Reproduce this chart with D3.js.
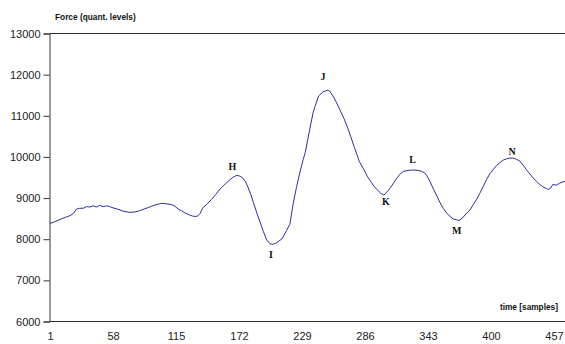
<!DOCTYPE html>
<html>
<head>
<meta charset="utf-8">
<script src="https://cdn.jsdelivr.net/npm/d3@7"></script>
<style>
html,body{margin:0;padding:0;background:#fff;}
svg{display:block;}
</style>
</head>
<body>
<svg id="chart" width="565" height="344"></svg>
<script>
// Sample index (x) and force (quantization levels)
const samples = [1,6,10,15,19,22,25,28,31,34,37,40,43,46,49,52,55,58,62,67,73,78,82,86,90,93,96,99,102,106,111,114,117,120,123,127,130,133,135,137,139,143,147,151,156,160,164,167,170,173,176,178,180,183,185,189,194,197,200,202,204,206,209,211,215,218,221,224,227,230,232,234,236,239,241,244,248,252,254,257,260,263,267,270,273,276,281,285,288,291,294,297,300,303,306,309,312,315,318,321,325,330,334,337,340,342,345,348,351,354,357,360,363,366,369,371,374,378,381,384,387,390,393,396,399,402,405,408,411,414,417,420,423,426,429,432,435,438,441,444,447,450,452,454,456,459,462,465,467];
const force   = [8370,8420,8470,8520,8560,8610,8720,8740,8740,8780,8770,8800,8770,8810,8780,8800,8780,8750,8720,8670,8640,8650,8680,8720,8760,8790,8820,8840,8860,8850,8830,8790,8720,8680,8630,8580,8550,8540,8560,8620,8740,8840,8950,9080,9240,9340,9440,9500,9540,9520,9460,9380,9260,9050,8880,8560,8180,7970,7880,7860,7880,7900,7960,8000,8200,8350,8850,9250,9600,9920,10100,10380,10660,11060,11230,11470,11570,11610,11590,11470,11320,11150,10920,10720,10490,10250,9870,9680,9520,9400,9280,9190,9110,9060,9140,9240,9360,9480,9580,9640,9660,9670,9660,9640,9600,9530,9380,9200,9040,8870,8730,8620,8540,8480,8460,8440,8500,8620,8700,8830,8960,9110,9270,9440,9580,9680,9780,9850,9910,9940,9960,9960,9930,9890,9790,9680,9580,9480,9400,9320,9260,9220,9200,9230,9320,9300,9350,9380,9400];
const yTicks = [6000,7000,8000,9000,10000,11000,12000,13000];
const xTicks = [1,58,115,172,229,286,343,400,457];
const peakLabels = ["H","I","J","K","L","M","N"];
const peakSamples = [166,201,248,305,329,369,419];
const peakForce = [9670,7530,11860,8820,9840,8115,10035];

const svg = d3.select("#chart");
const x = d3.scaleLinear().domain([1,457]).range([50,554]);
const y = d3.scaleLinear().domain([6000,13000]).range([321,33]);
const axisColor = "#333";

// top border of plot area
svg.append("line").attr("x1",49.5).attr("x2",565).attr("y1",y(13000)+0.5).attr("y2",y(13000)+0.5)
  .attr("stroke",axisColor).attr("stroke-width",1);

// y axis
const yAxis = svg.append("g").attr("transform","translate(49.5,0.5)")
  .call(d3.axisLeft(y).tickValues(yTicks).tickSize(6).tickPadding(3).tickFormat(d3.format("d")));
yAxis.select(".domain").attr("stroke",axisColor);
yAxis.selectAll(".tick line").attr("stroke",axisColor);
yAxis.selectAll("text").attr("font-family","Liberation Sans, Arial, sans-serif").attr("font-size","11px").attr("fill","#222");

// x axis
const xAxis = svg.append("g").attr("transform","translate(0,"+(y(6000)+0.5)+")")
  .call(d3.axisBottom(x).tickValues(xTicks).tickSize(0).tickPadding(11).tickFormat(d3.format("d")));
xAxis.select(".domain").attr("d","M49.5,0H565").attr("stroke",axisColor);
xAxis.selectAll("text").attr("font-family","Liberation Sans, Arial, sans-serif").attr("font-size","11px").attr("fill","#222");

// data line
const line = d3.line().x((d,i)=>x(samples[i])).y(d=>y(d)).curve(d3.curveLinear);
svg.append("path").datum(force).attr("d",line).attr("fill","none")
  .attr("stroke","#2e2e9e").attr("stroke-width",1).attr("stroke-linejoin","round");

// peak labels
svg.append("g").selectAll("text").data(peakLabels).join("text")
  .attr("x",(d,i)=>x(peakSamples[i])).attr("y",(d,i)=>y(peakForce[i]))
  .attr("text-anchor","middle").attr("font-family","Liberation Serif, Times New Roman, serif")
  .attr("font-weight","bold").attr("font-size","10px").attr("fill","#111").text(d=>d);

// axis titles
svg.append("text").attr("x",55).attr("y",20).attr("font-family","Liberation Sans, Arial, sans-serif")
  .attr("font-weight","bold").attr("font-size","8.3px").attr("fill","#111").text("Force (quant. levels)");
svg.append("text").attr("x",558).attr("y",310).attr("text-anchor","end").attr("font-family","Liberation Sans, Arial, sans-serif")
  .attr("font-weight","bold").attr("font-size","8.3px").attr("fill","#111").text("time [samples]");
</script>
</body>
</html>
